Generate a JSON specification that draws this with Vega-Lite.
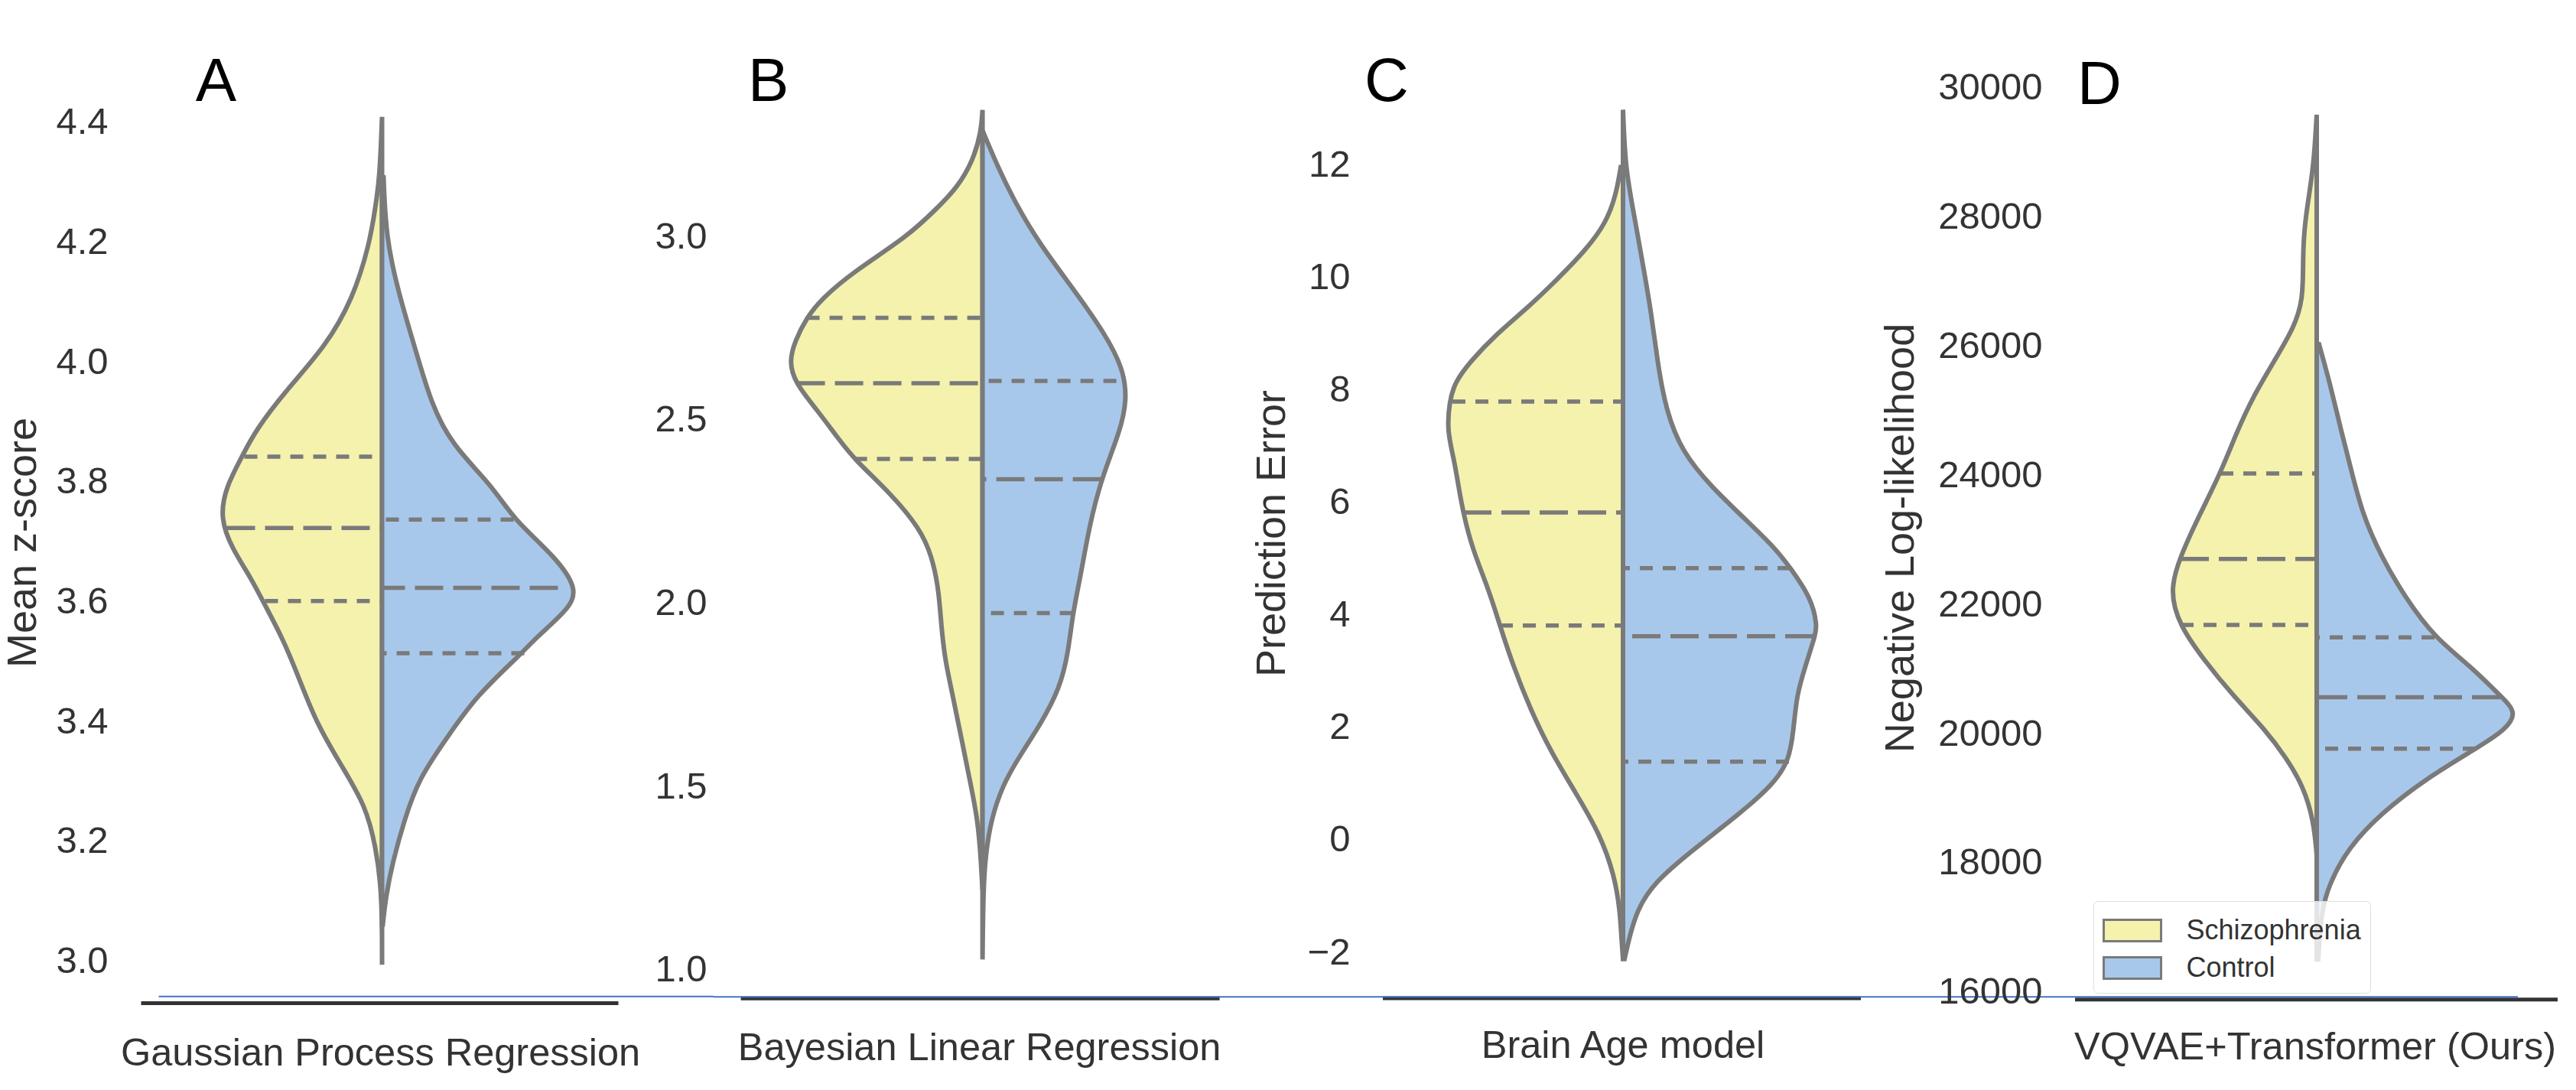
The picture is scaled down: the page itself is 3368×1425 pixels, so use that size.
{
  "$schema": "https://vega.github.io/schema/vega-lite/v6.json",
  "description": "Split violins of four models, schizophrenia against control.",
  "background": "white",
  "padding": {"left": 3, "top": 0, "right": 0, "bottom": 0},
  "bounds": "flush",
  "spacing": 0,
  "config": {
    "view": {"stroke": null},
    "font": "Liberation Sans",
    "axis": {"domain": false, "ticks": false, "grid": false, "labelPadding": 9, "labelFontSize": 49, "labelColor": "#333333", "labelFont": "Liberation Sans", "titleFontSize": 54, "titleFontWeight": "normal", "titleColor": "#333333", "titleFont": "Liberation Sans"}
  },
  "resolve": {"scale": {"color": "independent"}, "legend": {"color": "independent"}},
  "datasets": {
    "a": [
      {"g":"Schizophrenia","v":4.409,"d":0},{"g":"Schizophrenia","v":4.308,"d":-0.03},{"g":"Schizophrenia","v":4.256,"d":-0.09},{"g":"Schizophrenia","v":4.199,"d":-0.16},{"g":"Schizophrenia","v":4.105,"d":-0.38},{"g":"Schizophrenia","v":4.024,"d":-0.75},{"g":"Schizophrenia","v":3.955,"d":-1.24},{"g":"Schizophrenia","v":3.885,"d":-1.66},{"g":"Schizophrenia","v":3.842,"d":-1.83},{"g":"Schizophrenia","v":3.792,"d":-2.04},{"g":"Schizophrenia","v":3.74,"d":-2.12},{"g":"Schizophrenia","v":3.688,"d":-1.96},{"g":"Schizophrenia","v":3.641,"d":-1.72},{"g":"Schizophrenia","v":3.601,"d":-1.56},{"g":"Schizophrenia","v":3.537,"d":-1.29},{"g":"Schizophrenia","v":3.467,"d":-1.07},{"g":"Schizophrenia","v":3.398,"d":-0.86},{"g":"Schizophrenia","v":3.328,"d":-0.54},{"g":"Schizophrenia","v":3.259,"d":-0.21},{"g":"Schizophrenia","v":3.189,"d":-0.08},{"g":"Schizophrenia","v":3.131,"d":-0.02},{"g":"Schizophrenia","v":3.073,"d":0},{"g":"Schizophrenia","v":2.994,"d":0},
      {"g":"Control","v":4.308,"d":0.02},{"g":"Control","v":4.21,"d":0.05},{"g":"Control","v":4.117,"d":0.21},{"g":"Control","v":4.024,"d":0.43},{"g":"Control","v":3.931,"d":0.64},{"g":"Control","v":3.862,"d":0.91},{"g":"Control","v":3.792,"d":1.45},{"g":"Control","v":3.737,"d":1.72},{"g":"Control","v":3.676,"d":2.26},{"g":"Control","v":3.618,"d":2.58},{"g":"Control","v":3.583,"d":2.4},{"g":"Control","v":3.537,"d":1.99},{"g":"Control","v":3.514,"d":1.83},{"g":"Control","v":3.444,"d":1.24},{"g":"Control","v":3.375,"d":0.86},{"g":"Control","v":3.305,"d":0.48},{"g":"Control","v":3.235,"d":0.29},{"g":"Control","v":3.166,"d":0.14},{"g":"Control","v":3.108,"d":0.05},{"g":"Control","v":3.061,"d":0.01}
    ],
    "a_q": [
      {"stat":"quartile","v":3.842,"d":-1.8},{"stat":"median","v":3.723,"d":-2.03},{"stat":"quartile","v":3.601,"d":-1.53},
      {"stat":"quartile","v":3.737,"d":1.72},{"stat":"median","v":3.623,"d":2.3},{"stat":"quartile","v":3.514,"d":1.86}
    ],
    "b": [
      {"g":"Schizophrenia","v":3.345,"d":0},{"g":"Schizophrenia","v":3.284,"d":-0.02},{"g":"Schizophrenia","v":3.209,"d":-0.12},{"g":"Schizophrenia","v":3.133,"d":-0.33},{"g":"Schizophrenia","v":3.076,"d":-0.6},{"g":"Schizophrenia","v":3.0,"d":-0.98},{"g":"Schizophrenia","v":2.905,"d":-1.68},{"g":"Schizophrenia","v":2.829,"d":-2.11},{"g":"Schizophrenia","v":2.778,"d":-2.3},{"g":"Schizophrenia","v":2.716,"d":-2.45},{"g":"Schizophrenia","v":2.659,"d":-2.53},{"g":"Schizophrenia","v":2.6,"d":-2.45},{"g":"Schizophrenia","v":2.526,"d":-2.16},{"g":"Schizophrenia","v":2.45,"d":-1.89},{"g":"Schizophrenia","v":2.393,"d":-1.68},{"g":"Schizophrenia","v":2.299,"d":-1.2},{"g":"Schizophrenia","v":2.204,"d":-0.82},{"g":"Schizophrenia","v":2.128,"d":-0.66},{"g":"Schizophrenia","v":2.033,"d":-0.57},{"g":"Schizophrenia","v":1.938,"d":-0.54},{"g":"Schizophrenia","v":1.844,"d":-0.49},{"g":"Schizophrenia","v":1.749,"d":-0.39},{"g":"Schizophrenia","v":1.635,"d":-0.28},{"g":"Schizophrenia","v":1.521,"d":-0.17},{"g":"Schizophrenia","v":1.408,"d":-0.06},{"g":"Schizophrenia","v":1.294,"d":-0.02},{"g":"Schizophrenia","v":1.218,"d":0},
      {"g":"Control","v":3.284,"d":0.01},{"g":"Control","v":3.19,"d":0.2},{"g":"Control","v":3.095,"d":0.42},{"g":"Control","v":2.981,"d":0.74},{"g":"Control","v":2.848,"d":1.22},{"g":"Control","v":2.735,"d":1.6},{"g":"Control","v":2.64,"d":1.84},{"g":"Control","v":2.555,"d":1.89},{"g":"Control","v":2.469,"d":1.8},{"g":"Control","v":2.338,"d":1.55},{"g":"Control","v":2.204,"d":1.39},{"g":"Control","v":2.071,"d":1.28},{"g":"Control","v":1.973,"d":1.18},{"g":"Control","v":1.863,"d":1.12},{"g":"Control","v":1.768,"d":1.01},{"g":"Control","v":1.673,"d":0.77},{"g":"Control","v":1.578,"d":0.47},{"g":"Control","v":1.502,"d":0.26},{"g":"Control","v":1.408,"d":0.11},{"g":"Control","v":1.313,"d":0.04},{"g":"Control","v":1.218,"d":0.01},{"g":"Control","v":1.028,"d":0}
    ],
    "b_q": [
      {"stat":"quartile","v":2.778,"d":-2.3},{"stat":"median","v":2.6,"d":-2.43},{"stat":"quartile","v":2.393,"d":-1.68},
      {"stat":"quartile","v":2.606,"d":1.75},{"stat":"median","v":2.338,"d":1.55},{"stat":"quartile","v":1.973,"d":1.18}
    ],
    "c": [
      {"g":"Schizophrenia","v":11.96,"d":-0.03},{"g":"Schizophrenia","v":11.47,"d":-0.09},{"g":"Schizophrenia","v":10.97,"d":-0.22},{"g":"Schizophrenia","v":10.48,"d":-0.49},{"g":"Schizophrenia","v":9.99,"d":-0.84},{"g":"Schizophrenia","v":9.49,"d":-1.22},{"g":"Schizophrenia","v":9.0,"d":-1.65},{"g":"Schizophrenia","v":8.5,"d":-2.0},{"g":"Schizophrenia","v":8.13,"d":-2.2},{"g":"Schizophrenia","v":7.79,"d":-2.27},{"g":"Schizophrenia","v":7.27,"d":-2.3},{"g":"Schizophrenia","v":6.77,"d":-2.21},{"g":"Schizophrenia","v":6.28,"d":-2.15},{"g":"Schizophrenia","v":5.82,"d":-2.09},{"g":"Schizophrenia","v":5.17,"d":-1.97},{"g":"Schizophrenia","v":4.43,"d":-1.75},{"g":"Schizophrenia","v":3.81,"d":-1.61},{"g":"Schizophrenia","v":3.07,"d":-1.43},{"g":"Schizophrenia","v":2.32,"d":-1.21},{"g":"Schizophrenia","v":1.58,"d":-0.95},{"g":"Schizophrenia","v":0.84,"d":-0.62},{"g":"Schizophrenia","v":0.1,"d":-0.3},{"g":"Schizophrenia","v":-0.64,"d":-0.11},{"g":"Schizophrenia","v":-1.26,"d":-0.04},{"g":"Schizophrenia","v":-1.75,"d":-0.02},{"g":"Schizophrenia","v":-2.12,"d":0},
      {"g":"Control","v":12.98,"d":0},{"g":"Control","v":11.96,"d":0.03},{"g":"Control","v":11.22,"d":0.13},{"g":"Control","v":10.23,"d":0.26},{"g":"Control","v":9.37,"d":0.37},{"g":"Control","v":8.5,"d":0.45},{"g":"Control","v":7.64,"d":0.56},{"g":"Control","v":6.9,"d":0.77},{"g":"Control","v":6.28,"d":1.15},{"g":"Control","v":5.66,"d":1.63},{"g":"Control","v":5.17,"d":2.0},{"g":"Control","v":4.83,"d":2.19},{"g":"Control","v":4.3,"d":2.46},{"g":"Control","v":3.81,"d":2.54},{"g":"Control","v":3.62,"d":2.51},{"g":"Control","v":3.07,"d":2.38},{"g":"Control","v":2.57,"d":2.27},{"g":"Control","v":1.95,"d":2.23},{"g":"Control","v":1.39,"d":2.17},{"g":"Control","v":0.97,"d":1.95},{"g":"Control","v":0.47,"d":1.53},{"g":"Control","v":-0.15,"d":0.94},{"g":"Control","v":-0.76,"d":0.4},{"g":"Control","v":-1.26,"d":0.18},{"g":"Control","v":-1.75,"d":0.08},{"g":"Control","v":-2.12,"d":0.02}
    ],
    "c_q": [
      {"stat":"quartile","v":7.79,"d":-2.23},{"stat":"median","v":5.82,"d":-2.09},{"stat":"quartile","v":3.81,"d":-1.61},
      {"stat":"quartile","v":4.83,"d":2.19},{"stat":"median","v":3.62,"d":2.49},{"stat":"quartile","v":1.39,"d":2.17}
    ],
    "d": [
      {"g":"Schizophrenia","v":29579,"d":0},{"g":"Schizophrenia","v":28772,"d":-0.04},{"g":"Schizophrenia","v":28127,"d":-0.13},{"g":"Schizophrenia","v":27696,"d":-0.17},{"g":"Schizophrenia","v":27266,"d":-0.18},{"g":"Schizophrenia","v":26728,"d":-0.18},{"g":"Schizophrenia","v":26297,"d":-0.29},{"g":"Schizophrenia","v":25759,"d":-0.56},{"g":"Schizophrenia","v":25221,"d":-0.83},{"g":"Schizophrenia","v":24683,"d":-1.04},{"g":"Schizophrenia","v":24027,"d":-1.26},{"g":"Schizophrenia","v":23392,"d":-1.53},{"g":"Schizophrenia","v":22703,"d":-1.8},{"g":"Schizophrenia","v":22209,"d":-1.92},{"g":"Schizophrenia","v":21681,"d":-1.8},{"g":"Schizophrenia","v":21133,"d":-1.47},{"g":"Schizophrenia","v":20595,"d":-1.1},{"g":"Schizophrenia","v":20057,"d":-0.67},{"g":"Schizophrenia","v":19626,"d":-0.4},{"g":"Schizophrenia","v":19196,"d":-0.18},{"g":"Schizophrenia","v":18658,"d":-0.04},{"g":"Schizophrenia","v":18120,"d":0},
      {"g":"Control","v":26028,"d":0.03},{"g":"Control","v":25437,"d":0.17},{"g":"Control","v":24683,"d":0.32},{"g":"Control","v":24038,"d":0.46},{"g":"Control","v":23392,"d":0.6},{"g":"Control","v":22747,"d":0.84},{"g":"Control","v":22101,"d":1.16},{"g":"Control","v":21488,"d":1.54},{"g":"Control","v":21025,"d":2.03},{"g":"Control","v":20562,"d":2.42},{"g":"Control","v":20326,"d":2.62},{"g":"Control","v":20057,"d":2.47},{"g":"Control","v":19766,"d":2.08},{"g":"Control","v":19303,"d":1.43},{"g":"Control","v":18765,"d":0.84},{"g":"Control","v":18227,"d":0.41},{"g":"Control","v":17689,"d":0.17},{"g":"Control","v":17259,"d":0.06},{"g":"Control","v":16506,"d":0.02}
    ],
    "d_q": [
      {"stat":"quartile","v":24027,"d":-1.26},{"stat":"median","v":22703,"d":-1.78},{"stat":"quartile","v":21681,"d":-1.78},
      {"stat":"quartile","v":21488,"d":1.54},{"stat":"median","v":20562,"d":2.4},{"stat":"quartile","v":19766,"d":2.08}
    ]
  },
  "hconcat": [
    {
      "width": 783,
      "height": 1425,
      "encoding": {
        "x": {"field": "d", "type": "quantitative", "axis": null, "scale": {"domain": [-3.495, 4.335]}},
        "y": {"field": "v", "type": "quantitative", "scale": {"domain": [2.785, 4.604]}, "axis": {"title": "Mean z-score", "values": [3.0, 3.2, 3.4, 3.6, 3.8, 4.0, 4.2, 4.4], "format": ".1f", "titleX": -93, "titleY": 709}}
      },
      "layer": [
        {
          "data": {"name": "a"},
          "mark": {"type": "area", "orient": "horizontal", "interpolate": "basis", "stroke": "#7a7a7a", "strokeWidth": 6, "opacity": 1},
          "encoding": {
            "x2": {"datum": 0},
            "color": {"field": "g", "type": "nominal", "legend": null, "scale": {"domain": ["Schizophrenia", "Control"], "range": ["#f4f2ad", "#a8c8eb"]}}
          }
        },
        {
          "data": {"name": "a_q"},
          "mark": {"type": "rule", "color": "#7a7a7a", "strokeWidth": 5.5},
          "encoding": {
            "x2": {"datum": 0},
            "strokeDash": {"field": "stat", "type": "nominal", "legend": null, "scale": {"domain": ["quartile", "median"], "range": [[17, 13], [37, 13]]}}
          }
        },
        {
          "data": {"values": [{"v": 2.93, "d": -3.15, "d2": 3.09, "c": "base"}, {"v": 2.941, "d": -2.92, "d2": 4.335, "c": "blue"}]},
          "mark": {"type": "rule"},
          "encoding": {
            "x2": {"field": "d2"},
            "stroke": {"field": "c", "type": "nominal", "legend": null, "scale": {"domain": ["base", "blue"], "range": ["#333333", "#4472c4"]}},
            "strokeWidth": {"field": "c", "type": "nominal", "legend": null, "scale": {"domain": ["base", "blue"], "range": [5, 2]}}
          }
        },
        {
          "data": {"values": [{"v": 2.845, "d": -0.02, "label": "Gaussian Process Regression"}]},
          "mark": {"type": "text", "fontSize": 50.5, "color": "#333333", "align": "center", "baseline": "middle"},
          "encoding": {"text": {"field": "label"}}
        },
        {
          "data": {"values": [{"v": 4.466, "d": -2.17, "label": "A"}]},
          "mark": {"type": "text", "fontSize": 80, "color": "#000000", "align": "center", "baseline": "middle"},
          "encoding": {"text": {"field": "label"}}
        }
      ]
    },
    {
      "width": 841,
      "height": 1425,
      "encoding": {
        "x": {"field": "d", "type": "quantitative", "axis": null, "scale": {"domain": [-3.516, 4.894]}},
        "y": {"field": "v", "type": "quantitative", "scale": {"domain": [0.672, 3.645]}, "axis": {"title": null, "values": [1.0, 1.5, 2.0, 2.5, 3.0], "format": ".1f"}}
      },
      "layer": [
        {
          "data": {"name": "b"},
          "mark": {"type": "area", "orient": "horizontal", "interpolate": "basis", "stroke": "#7a7a7a", "strokeWidth": 6, "opacity": 1},
          "encoding": {
            "x2": {"datum": 0},
            "color": {"field": "g", "type": "nominal", "legend": null, "scale": {"domain": ["Schizophrenia", "Control"], "range": ["#f4f2ad", "#a8c8eb"]}}
          }
        },
        {
          "data": {"name": "b_q"},
          "mark": {"type": "rule", "color": "#7a7a7a", "strokeWidth": 5.5},
          "encoding": {
            "x2": {"datum": 0},
            "strokeDash": {"field": "stat", "type": "nominal", "legend": null, "scale": {"domain": ["quartile", "median"], "range": [[17, 13], [37, 13]]}}
          }
        },
        {
          "data": {"values": [{"v": 0.922, "d": -3.16, "d2": 3.1, "c": "base"}, {"v": 0.926, "d": -3.516, "d2": 4.894, "c": "blue"}]},
          "mark": {"type": "rule"},
          "encoding": {
            "x2": {"field": "d2"},
            "stroke": {"field": "c", "type": "nominal", "legend": null, "scale": {"domain": ["base", "blue"], "range": ["#2a3a6a", "#4472c4"]}},
            "strokeWidth": {"field": "c", "type": "nominal", "legend": null, "scale": {"domain": ["base", "blue"], "range": [5, 2]}}
          }
        },
        {
          "data": {"values": [{"v": 0.785, "d": -0.04, "label": "Bayesian Linear Regression"}]},
          "mark": {"type": "text", "fontSize": 50.5, "color": "#333333", "align": "center", "baseline": "middle"},
          "encoding": {"text": {"field": "label"}}
        },
        {
          "data": {"values": [{"v": 3.419, "d": -2.8, "label": "B"}]},
          "mark": {"type": "text", "fontSize": 80, "color": "#000000", "align": "center", "baseline": "middle"},
          "encoding": {"text": {"field": "label"}}
        }
      ]
    },
    {
      "width": 905,
      "height": 1425,
      "encoding": {
        "x": {"field": "d", "type": "quantitative", "axis": null, "scale": {"domain": [-3.48, 5.57]}},
        "y": {"field": "v", "type": "quantitative", "scale": {"domain": [-4.447, 14.93]}, "axis": {"title": "Prediction Error", "values": [-2, 0, 2, 4, 6, 8, 10, 12], "format": "d", "titleX": -84, "titleY": 697}}
      },
      "layer": [
        {
          "data": {"name": "c"},
          "mark": {"type": "area", "orient": "horizontal", "interpolate": "basis", "stroke": "#7a7a7a", "strokeWidth": 6, "opacity": 1},
          "encoding": {
            "x2": {"datum": 0},
            "color": {"field": "g", "type": "nominal", "legend": null, "scale": {"domain": ["Schizophrenia", "Control"], "range": ["#f4f2ad", "#a8c8eb"]}}
          }
        },
        {
          "data": {"name": "c_q"},
          "mark": {"type": "rule", "color": "#7a7a7a", "strokeWidth": 5.5},
          "encoding": {
            "x2": {"datum": 0},
            "strokeDash": {"field": "stat", "type": "nominal", "legend": null, "scale": {"domain": ["quartile", "median"], "range": [[17, 13], [37, 13]]}}
          }
        },
        {
          "data": {"values": [{"v": -2.816, "d": -3.14, "d2": 3.11, "c": "base"}, {"v": -2.791, "d": -3.48, "d2": 5.57, "c": "blue"}]},
          "mark": {"type": "rule"},
          "encoding": {
            "x2": {"field": "d2"},
            "stroke": {"field": "c", "type": "nominal", "legend": null, "scale": {"domain": ["base", "blue"], "range": ["#2a3a6a", "#4472c4"]}},
            "strokeWidth": {"field": "c", "type": "nominal", "legend": null, "scale": {"domain": ["base", "blue"], "range": [5, 2]}}
          }
        },
        {
          "data": {"values": [{"v": -3.668, "d": 0, "label": "Brain Age model"}]},
          "mark": {"type": "text", "fontSize": 50.5, "color": "#333333", "align": "center", "baseline": "middle"},
          "encoding": {"text": {"field": "label"}}
        },
        {
          "data": {"values": [{"v": 13.455, "d": -3.09, "label": "C"}]},
          "mark": {"type": "text", "fontSize": 80, "color": "#000000", "align": "center", "baseline": "middle"},
          "encoding": {"text": {"field": "label"}}
        }
      ]
    },
    {
      "width": 689,
      "height": 1425,
      "encoding": {
        "x": {"field": "d", "type": "quantitative", "axis": null, "scale": {"domain": [-3.5, 3.39]}},
        "y": {"field": "v", "type": "quantitative", "scale": {"domain": [14483, 31355]}, "axis": {"title": "Negative Log-likelihood", "values": [16000, 18000, 20000, 22000, 24000, 26000, 28000, 30000], "format": "d", "titleX": -167, "titleY": 703}}
      },
      "layer": [
        {
          "data": {"name": "d"},
          "mark": {"type": "area", "orient": "horizontal", "interpolate": "basis", "stroke": "#7a7a7a", "strokeWidth": 6, "opacity": 1},
          "encoding": {
            "x2": {"datum": 0},
            "color": {
              "field": "g",
              "type": "nominal",
              "scale": {"domain": ["Schizophrenia", "Control"], "range": ["#f4f2ad", "#a8c8eb"]},
              "legend": {
                "orient": "none",
                "legendX": 58,
                "legendY": 1178,
                "title": null,
                "fillColor": "rgba(255,255,255,0.8)",
                "strokeColor": "#dddddd",
                "cornerRadius": 6,
                "padding": 12,
                "labelFontSize": 36,
                "labelColor": "#333333",
                "labelFont": "Liberation Sans",
                "labelLimit": 400,
                "labelOffset": 44,
                "symbolType": "M-1.5,-0.56H1.5V0.56H-1.5Z",
                "symbolSize": 2500,
                "symbolOffset": 12.5,
                "symbolOpacity": 1,
                "symbolStrokeColor": "#7a7a7a",
                "symbolStrokeWidth": 3,
                "zindex": 1
              }
            }
          }
        },
        {
          "data": {"name": "d_q"},
          "mark": {"type": "rule", "color": "#7a7a7a", "strokeWidth": 5.5},
          "encoding": {
            "x2": {"datum": 0},
            "strokeDash": {"field": "stat", "type": "nominal", "legend": null, "scale": {"domain": ["quartile", "median"], "range": [[17, 13], [37, 13]]}}
          }
        },
        {
          "data": {"values": [{"v": 15882, "d": -3.16, "d2": 3.15, "c": "base"}, {"v": 15925, "d": -3.5, "d2": 2.63, "c": "blue"}]},
          "mark": {"type": "rule"},
          "encoding": {
            "x2": {"field": "d2"},
            "stroke": {"field": "c", "type": "nominal", "legend": null, "scale": {"domain": ["base", "blue"], "range": ["#333333", "#4472c4"]}},
            "strokeWidth": {"field": "c", "type": "nominal", "legend": null, "scale": {"domain": ["base", "blue"], "range": [5, 2]}}
          }
        },
        {
          "data": {"values": [{"v": 15139, "d": -0.02, "label": "VQVAE+Transformer (Ours)"}]},
          "mark": {"type": "text", "fontSize": 50.5, "color": "#333333", "align": "center", "baseline": "middle"},
          "encoding": {"text": {"field": "label"}}
        },
        {
          "data": {"values": [{"v": 30025, "d": -2.84, "label": "D"}]},
          "mark": {"type": "text", "fontSize": 80, "color": "#000000", "align": "center", "baseline": "middle"},
          "encoding": {"text": {"field": "label"}}
        }
      ]
    }
  ]
}
